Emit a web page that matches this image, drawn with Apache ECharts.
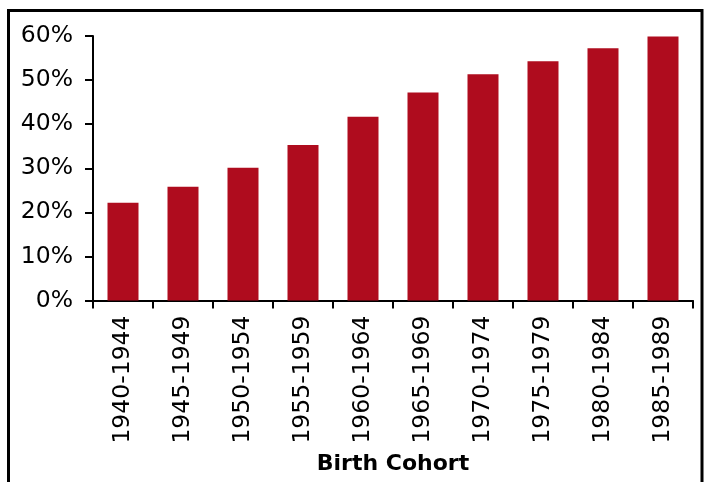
<!DOCTYPE html>
<html>
<head>
<meta charset="utf-8">
<script src="https://cdn.jsdelivr.net/npm/echarts@6/dist/echarts.min.js"></script>
<style>
    html, body { margin: 0; padding: 0; background: #fff; }
    #chart { width: 704px; height: 482px; }
</style>
</head>
<body>
<div id="chart"></div>
<script>
// 数据
var cohorts = ['1940-1944', '1945-1949', '1950-1954', '1955-1959', '1960-1964',
    '1965-1969', '1970-1974', '1975-1979', '1980-1984', '1985-1989'];
var shares = [22.2, 25.8, 30.1, 35.3, 41.7, 47.2, 51.3, 54.3, 57.2, 59.9];
var yTicks = [0, 10, 20, 30, 40, 50, 60];

var axisFont = 'DejaVu Sans';
var barColor = '#AF0C1E';

var myChart = echarts.init(document.getElementById('chart'));
var option = {
    backgroundColor: '#fff',
    animation: false,
    grid: {
        left: 93,
        top: 36,
        right: 11,
        bottom: 181.5,
        containLabel: false,
        outerBoundsMode: 'none'
    },
    // 外框（底边在画面外）
    graphic: [{
        type: 'polyline',
        shape: {points: [[8.5, 490], [8.5, 10.5], [702, 10.5], [702, 490]]},
        style: {fill: 'none', stroke: '#000', lineWidth: 3},
        silent: true
    }],
    xAxis: {
        type: 'category',
        data: cohorts,
        name: 'Birth Cohort',
        nameLocation: 'middle',
        nameGap: 164,
        nameTextStyle: {
            fontFamily: axisFont,
            fontSize: 22,
            fontWeight: 'bold',
            color: '#000',
            verticalAlign: 'middle'
        },
        axisLine: {lineStyle: {color: '#000', width: 2}},
        axisTick: {show: true, length: 8, lineStyle: {color: '#000', width: 2}},
        axisLabel: {
            rotate: 90,
            margin: 15,
            interval: 0,
            fontFamily: axisFont,
            fontSize: 23.5,
            color: '#000'
        }
    },
    yAxis: {
        type: 'value',
        min: yTicks[0],
        max: yTicks[yTicks.length - 1],
        interval: 10,
        splitLine: {show: false},
        axisLine: {show: true, lineStyle: {color: '#000', width: 2}},
        axisTick: {show: true, length: 8, lineStyle: {color: '#000', width: 2}},
        axisLabel: {
            margin: 20,
            fontFamily: axisFont,
            fontSize: 23.5,
            color: '#000',
            formatter: function (value) {
                return value + '%';
            }
        }
    },
    series: [{
        type: 'bar',
        data: shares,
        barWidth: 31,
        itemStyle: {color: barColor}
    }]
};

myChart.setOption(option);
</script>
</body>
</html>
